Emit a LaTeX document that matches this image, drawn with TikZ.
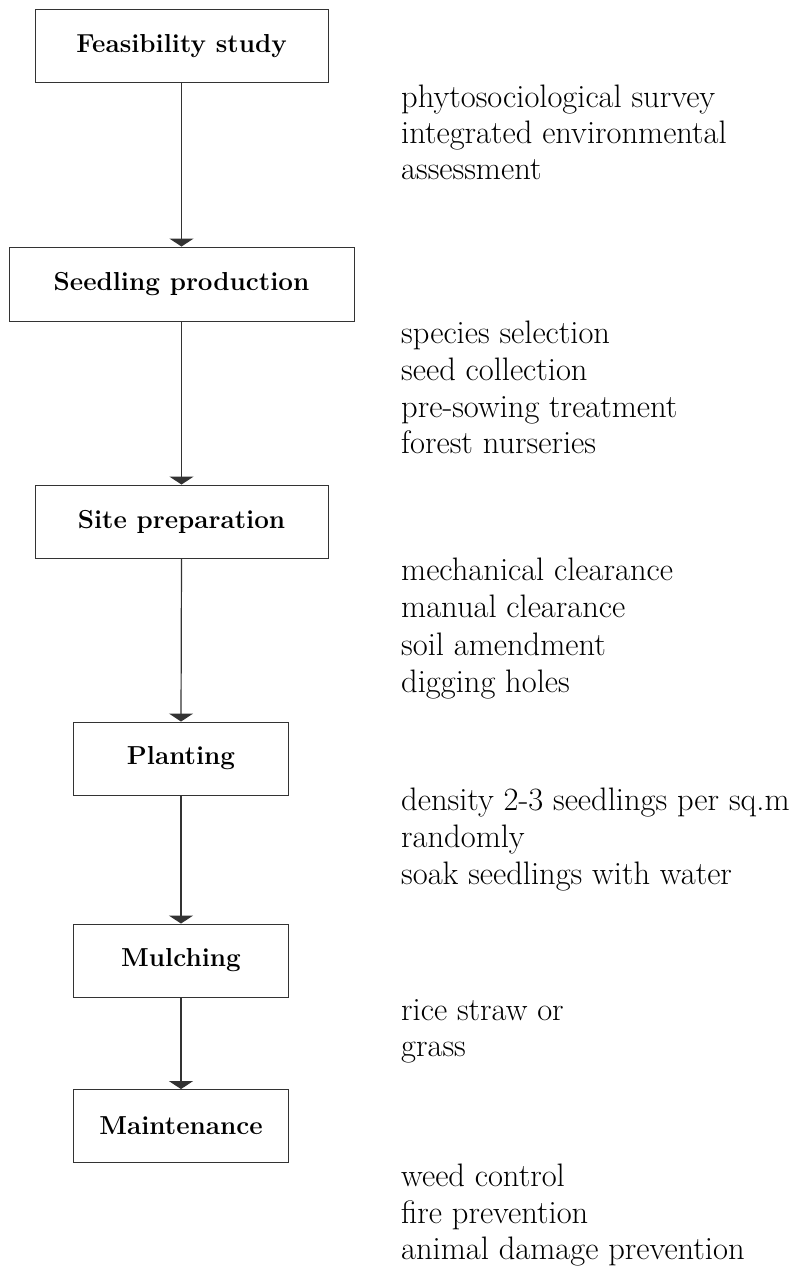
\documentclass[tikz,border=0pt]{standalone}
\usetikzlibrary{arrows.meta}
\definecolor{linegray}{HTML}{333333}
\begin{document}
\begin{tikzpicture}[x=1pt,y=-1pt,
  stepbox/.style={draw=linegray,line width=0.9pt,rectangle,inner sep=0pt,
    font=\fontsize{26}{30}\selectfont\bfseries,text=black},
  wide/.style={stepbox,minimum width=345pt,minimum height=74pt},
  mid/.style={stepbox,minimum width=293pt,minimum height=73pt},
  narrow/.style={stepbox,minimum width=215pt,minimum height=73pt},
  flow/.style={draw=linegray,line width=1.2pt,-{Triangle[width=24pt,length=8pt]}},
  note/.style={anchor=base west,inner sep=0pt,font=\fontsize{32.5}{36}\selectfont,text=black}]
\useasboundingbox[fill=white] (0,0) rectangle (794,1266);

\node[mid]    (feas)  at (181.5,46)    {Feasibility study};
\node[wide]   (seed)  at (181.5,284)   {Seedling production};
\node[mid]    (site)  at (181.5,521.5) {Site preparation};
\node[narrow] (plant) at (181,758.5)   {Planting};
\node[narrow] (mulch) at (181,960.5)   {Mulching};
\node[narrow] (maint) at (181,1126)    {Maintenance};

\draw[flow] (feas.south) -- (seed.north);
\draw[flow] (seed.south) -- (site.north);
\draw[flow] (site.south) -- (plant.north);
\draw[flow] (plant.south) -- (mulch.north);
\draw[flow] (mulch.south) -- (maint.north);

\node[note] (a1) at (401,107) {phytosociological survey};
\node[note] (a2) at (401,143) {integrated environmental};
\node[note] (a3) at (401,179) {assessment};

\node[note] (b1) at (401,343) {species selection};
\node[note] (b2) at (401,380) {seed collection};
\node[note] (b3) at (401,417) {pre-sowing treatment};
\node[note] (b4) at (401,453) {forest nurseries};

\node[note] (c1) at (401,580) {mechanical clearance};
\node[note] (c2) at (401,617) {manual clearance};
\node[note] (c3) at (401,655) {soil amendment};
\node[note] (c4) at (401,692) {digging holes};

\node[note] (d1) at (401,810) {density 2-3 seedlings per sq.m};
\node[note] (d2) at (401,847) {randomly};
\node[note] (d3) at (401,884) {soak seedlings with water};

\node[note] (e1) at (401,1020) {rice straw or};
\node[note] (e2) at (401,1056) {grass};

\node[note] (f1) at (401,1186) {weed control};
\node[note] (f2) at (401,1223) {fire prevention};
\node[note] (f3) at (401,1259) {animal damage prevention};
\end{tikzpicture}
\end{document}
